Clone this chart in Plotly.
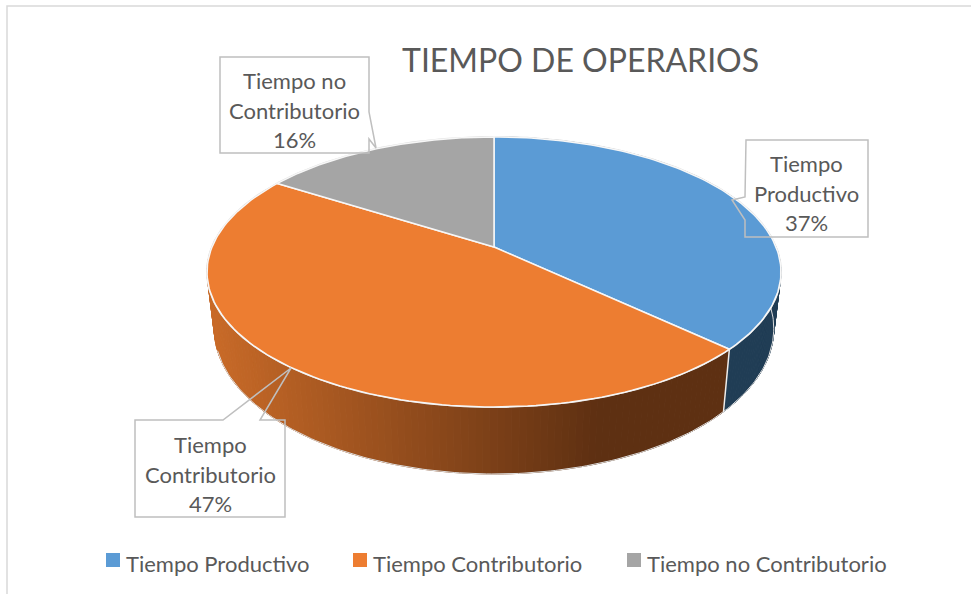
"""Pie 3D de tiempo de operarios, dibujado en ejes con escala de pixeles."""

import numpy as np
import plotly.graph_objects as go

categories = ["Tiempo Productivo", "Tiempo Contributorio", "Tiempo no Contributorio"]
percents = [37, 47, 16]
label_lines = [["Tiempo", "Productivo"], ["Tiempo", "Contributorio"], ["Tiempo no", "Contributorio"]]
title = "TIEMPO DE OPERARIOS"

COLORS = ["#5B9BD5", "#ED7D31", "#A5A5A5"]
TEXT = "#595959"
BOX = "#BFBFBF"
FONT = "Lato"

# perspective of the tilted disc
HUB_X, HUB_Y = 494, 247
A, B, K = 282, 130.4, 0.185
DEPTH, BOTTOM_SCALE = 54.6, 0.975


def top_edge(theta):
    u, v = np.sin(theta), np.cos(theta)
    den = 1 + K * v
    return HUB_X + A * u / den, HUB_Y - B * v / den


def bottom_edge(theta):
    u, v = np.sin(theta), np.cos(theta)
    den = 1 + K * v
    return HUB_X + BOTTOM_SCALE * A * u / den, HUB_Y - B * v / den + DEPTH / den


def wall_color(x, slice_idx):
    if slice_idx == 0:
        return "#203D55"
    t = min(max((x - 213) / (600 - 213), 0), 1)
    c0, c1 = (200, 106, 40), (94, 48, 18)
    return "rgb(%d,%d,%d)" % tuple(a + (b - a) * t for a, b in zip(c0, c1))


bounds = np.radians(np.cumsum([0] + percents) * 3.6)
fig = go.Figure()

# side walls, only the front part shows
for i in range(2):
    start, end = bounds[i], bounds[i + 1]
    steps = np.linspace(start, end, 140)
    for t0, t1 in zip(steps[:-1], steps[1:]):
        x0, y0 = top_edge(t0)
        x1, y1 = top_edge(t1)
        x2, y2 = bottom_edge(t1)
        x3, y3 = bottom_edge(t0)
        col = wall_color((x0 + x1) / 2, i)
        fig.add_trace(go.Scatter(
            x=[x0, x1, x2, x3, x0], y=[y0, y1, y2, y3, y0],
            mode="lines", fill="toself", fillcolor=col,
            line=dict(color=col, width=1),
            hoverinfo="skip", showlegend=False,
        ))

# soft halo round the disc and under the wall
all_theta = np.linspace(0, 2 * np.pi, 361)
hx, hy = top_edge(all_theta)
fig.add_trace(go.Scatter(x=hx, y=hy, mode="lines", line=dict(color="#DEDEDE", width=2),
                         hoverinfo="skip", showlegend=False))
low_theta = np.linspace(bounds[0] + 1.2, bounds[2] - 0.9, 200)
lx, ly = bottom_edge(low_theta)
fig.add_trace(go.Scatter(x=lx, y=ly, mode="lines", line=dict(color="#DEDEDE", width=1),
                         hoverinfo="skip", showlegend=False))

# white seam between blue and orange walls
x0, y0 = top_edge(bounds[1])
x1, y1 = bottom_edge(bounds[1])
fig.add_trace(go.Scatter(x=[x0, x1], y=[y0, y1], mode="lines",
                         line=dict(color="#EDEDED", width=1.5),
                         hoverinfo="skip", showlegend=False))

# top surface
for i, cat in enumerate(categories):
    theta = np.linspace(bounds[i], bounds[i + 1], 120)
    ex, ey = top_edge(theta)
    fig.add_trace(go.Scatter(
        x=np.r_[HUB_X, ex, HUB_X], y=np.r_[HUB_Y, ey, HUB_Y],
        mode="lines", fill="toself", fillcolor=COLORS[i],
        line=dict(color="#F7F7F7", width=1.5),
        name=cat, text=f"{cat}: {percents[i]}%", hoverinfo="text",
        showlegend=False,
    ))

# legend swatches, text goes in annotations so the gaps can match
LEGEND_X = [113, 360, 634]
LEGEND_Y = 560
fig.add_trace(go.Scatter(
    x=LEGEND_X, y=[LEGEND_Y] * 3, mode="markers",
    marker=dict(symbol="square", size=14, color=COLORS),
    hoverinfo="skip", showlegend=False,
))

# callout boxes with their leader tips
box_spec = [
    dict(path="M 746 140 L 868 140 L 868 237 L 745 237 L 745 220 L 732 200 L 745 197 Z", cx=806, cy=193),
    dict(path="M 135 420 L 223 420 L 291 368 L 260 420 L 285 420 L 285 517 L 135 517 Z", cx=210, cy=474),
    dict(path="M 220 57 L 369 57 L 369 112 L 376 148 L 369 139 L 369 153 L 220 153 Z", cx=294, cy=110),
]

shapes = [dict(type="path", path=b["path"], line=dict(color=BOX, width=1.5),
               fillcolor="rgba(0,0,0,0)", layer="above") for b in box_spec]
# chart frame, right and bottom sides run off the page
shapes.append(dict(type="rect", x0=7, y0=6, x1=1000, y1=620,
                   line=dict(color="#D9D9D9", width=1.5), layer="below"))

annotations = []
for b, lines, p in zip(box_spec, label_lines, percents):
    for k, line in enumerate(lines + [f"{p}%"]):
        annotations.append(dict(
            x=b["cx"], y=b["cy"] + (k - 1) * 29.5, text=line, showarrow=False,
            font=dict(family=FONT, size=22, color=TEXT),
            xanchor="center", yanchor="middle",
        ))
for lx_, cat in zip(LEGEND_X, categories):
    annotations.append(dict(
        x=lx_ + 11, y=LEGEND_Y + 3, text=cat, showarrow=False,
        font=dict(family=FONT, size=22, color=TEXT),
        xanchor="left", yanchor="middle",
    ))
annotations.append(dict(x=580, y=59, text=title, showarrow=False,
                        font=dict(family=FONT, size=32, color=TEXT),
                        xanchor="center", yanchor="middle"))

fig.update_layout(
    width=971, height=594,
    margin=dict(l=0, r=0, t=0, b=0),
    paper_bgcolor="white", plot_bgcolor="white",
    xaxis=dict(range=[0, 971], visible=False, fixedrange=True),
    yaxis=dict(range=[594, 0], visible=False, fixedrange=True),
    shapes=shapes, annotations=annotations,
    font=dict(family=FONT, color=TEXT),
    showlegend=False,
    hovermode="closest",
)

# page has a default body margin that would shift everything
fig.write_html("out.html", config=dict(displayModeBar=False),
               post_script="document.body.style.margin='0';")
